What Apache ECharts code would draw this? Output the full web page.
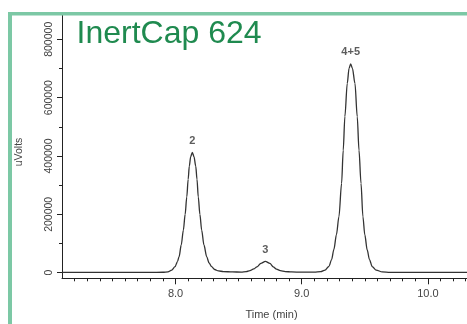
<!DOCTYPE html>
<html>
<head>
<meta charset="utf-8">
<script src="https://cdn.jsdelivr.net/npm/echarts@6/dist/echarts.min.js"></script>
<style>
html,body{margin:0;padding:0;background:#fff;}
#c{width:467px;height:324px;}
</style>
</head>
<body>
<div id="c"></div>
<script>
// ---- data ----
var title = 'InertCap 624';
var xAxisName = 'Time (min)';
var yAxisName = 'uVolts';

var times = [
  7.10, 7.50, 7.80, 7.90, 7.94, 7.97, 7.996, 8.015, 8.028, 8.045, 8.062, 8.076, 8.089, 8.100, 8.109, 8.120,
  8.133, 8.146, 8.160, 8.170, 8.180, 8.193, 8.207, 8.225, 8.247, 8.265, 8.286, 8.31, 8.34, 8.38, 8.45, 8.52,
  8.56, 8.59, 8.62, 8.645, 8.676, 8.712, 8.748, 8.774, 8.80, 8.83, 8.87, 8.92, 9.00, 9.10, 9.15,
  9.185, 9.216, 9.237, 9.255, 9.275, 9.295, 9.316, 9.329, 9.342, 9.361, 9.375, 9.388, 9.402, 9.422, 9.440,
  9.454, 9.470, 9.485, 9.500, 9.519, 9.537, 9.559, 9.59, 9.638, 9.70, 10.0, 10.31
];
var signal = [
  800, 800, 900, 1500, 3000, 9000, 20500, 38000, 55000, 95000, 146000, 200000, 260000, 320000, 365000, 398000,
  412000, 398000, 365000, 320000, 260000, 200000, 146000, 95000, 55000, 34000, 20500, 11000, 6000, 4000, 2500, 2200,
  3500, 7000, 13000, 20000, 32000, 39000, 32000, 20000, 12000, 7000, 4000, 2500, 2000, 2200, 3500,
  9000, 22000, 45000, 80000, 130000, 192000, 306000, 420000, 535000, 649000, 700000, 716000, 700000, 649000, 535000,
  420000, 306000, 192000, 130000, 78000, 45000, 21000, 9000, 2500, 1200, 1000, 1000
];

var peakNames = ['2', '3', '4+5'];
var peakTimes = [8.133, 8.712, 9.388];
var peakValues = [412000, 39000, 716000];

var xMajorTicks = [8, 9, 10];
var xMinorTicks = [7.2, 7.3, 7.4, 7.5, 7.6, 7.7, 7.8, 7.9, 8.0, 8.1, 8.2, 8.3, 8.4, 8.5, 8.6, 8.7, 8.8, 8.9,
  9.0, 9.1, 9.2, 9.3, 9.4, 9.5, 9.6, 9.7, 9.8, 9.9, 10.0, 10.1, 10.2, 10.3];
var yMajorTicks = [0, 200000, 400000, 600000, 800000];
var yMinorTicks = [0, 100000, 200000, 300000, 400000, 500000, 600000, 700000, 800000];

var X_MIN = 7.1, X_MAX = 10.31, Y_MIN = -19200, Y_MAX = 883300;

// ---- chart ----
var chart = echarts.init(document.getElementById('c'), null, {renderer: 'canvas'});
var lineData = times.map(function (t, i) { return [t, signal[i]]; });
var peakData = peakTimes.map(function (t, i) { return {value: [t, peakValues[i]], name: peakNames[i]}; });
var axisColor = '#222';
var font = 'Liberation Sans, Arial, sans-serif';

var option = {
  backgroundColor: '#fff',
  animation: false,
  grid: {left: 62, top: 15, right: 0, bottom: 45.7, containLabel: false},
  xAxis: [{
    type: 'value', min: X_MIN, max: X_MAX, position: 'bottom', offset: 0,
    axisLine: {show: true, onZero: false, lineStyle: {color: axisColor, width: 1}},
    axisTick: {show: true, customValues: xMajorTicks, length: 6, lineStyle: {color: axisColor}},
    axisLabel: {show: true, customValues: xMajorTicks, margin: 10, color: '#444', fontSize: 11, fontFamily: font,
      formatter: function (v) { return v.toFixed(1); }},
    splitLine: {show: false}
  }, {
    type: 'value', min: X_MIN, max: X_MAX, position: 'bottom', offset: 0,
    axisLine: {show: false, onZero: false},
    axisTick: {show: true, customValues: xMinorTicks, length: 3, lineStyle: {color: axisColor}},
    axisLabel: {show: false},
    splitLine: {show: false}
  }],
  yAxis: [{
    type: 'value', min: Y_MIN, max: Y_MAX, position: 'left', offset: 0,
    axisLine: {show: true, onZero: false, lineStyle: {color: axisColor, width: 1}},
    axisTick: {show: true, customValues: yMajorTicks, length: 5, lineStyle: {color: axisColor}},
    axisLabel: {show: true, customValues: yMajorTicks, rotate: 90, margin: 7, color: '#444', fontSize: 10.5, fontFamily: font,
      formatter: function (v) { return String(Math.round(v)); }},
    splitLine: {show: false}
  }, {
    type: 'value', min: Y_MIN, max: Y_MAX, position: 'left', offset: 0,
    axisLine: {show: false, onZero: false},
    axisTick: {show: true, customValues: yMinorTicks, length: 3, lineStyle: {color: axisColor}},
    axisLabel: {show: false},
    splitLine: {show: false}
  }],
  series: [{
    type: 'line', xAxisIndex: 0, yAxisIndex: 0, data: lineData,
    showSymbol: false, smooth: 0.3, smoothMonotone: 'x',
    lineStyle: {color: '#333', width: 1.3},
    silent: true
  }, {
    type: 'scatter', xAxisIndex: 0, yAxisIndex: 0, data: peakData,
    symbolSize: 0,
    label: {show: true, position: 'top', distance: 6, formatter: '{b}', color: '#333', fontSize: 11, fontWeight: 'bold', fontFamily: font},
    silent: true
  }],
  graphic: [
    {type: 'rect', shape: {x: 8, y: 12, width: 4, height: 320}, style: {fill: '#7cc8a5'}, z: 100},
    {type: 'rect', shape: {x: 8, y: 12, width: 470, height: 3.5}, style: {fill: '#7cc8a5'}, z: 100},
    {type: 'text', x: 76.5, y: 34, style: {text: title, fill: '#1f8a4f', font: '32px Liberation Sans, Arial, sans-serif', textAlign: 'left', textVerticalAlign: 'middle'}, z: 100},
    {type: 'text', x: 271.5, y: 315, style: {text: xAxisName, fill: '#444', font: '11px Liberation Sans, Arial, sans-serif', textAlign: 'center', textVerticalAlign: 'middle'}, z: 100},
    {type: 'text', x: 19, y: 152, rotation: Math.PI / 2, style: {text: yAxisName, fill: '#444', font: '10.5px Liberation Sans, Arial, sans-serif', textAlign: 'center', textVerticalAlign: 'middle'}, z: 100}
  ]
};
chart.setOption(option);
</script>
</body>
</html>
